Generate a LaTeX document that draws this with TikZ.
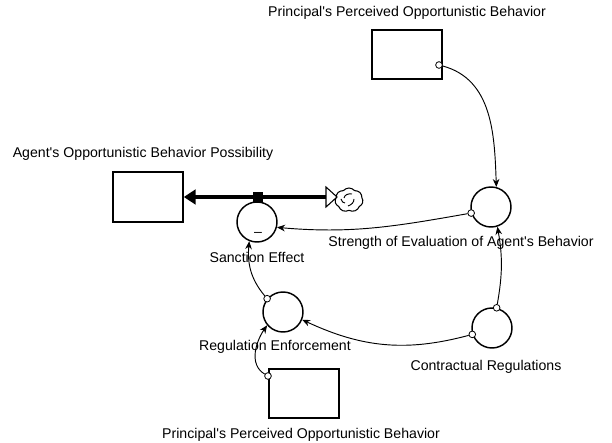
\documentclass[tikz,border=0pt]{standalone}
\usepackage{fontspec}
\setmainfont{Liberation Sans}
\usetikzlibrary{arrows.meta,shapes.symbols}
\newcommand{\ap}{\textquotesingle}
\begin{document}
\begin{tikzpicture}[x=0.75pt,y=0.75pt,
  lbl/.style={font=\fontsize{10.6}{12}\selectfont, inner sep=0},
  stock/.style={draw, line width=1.6pt, minimum width=52pt, minimum height=37pt, inner sep=0},
  aux/.style={draw, circle, line width=1.1pt, minimum size=30pt, inner sep=0},
  tap/.style={draw, circle, fill=white, line width=0.6pt, minimum size=5pt, inner sep=0},
  link/.style={line width=0.7pt, -{Stealth[length=6pt,width=5pt]}},
]
\useasboundingbox (0,0) rectangle (612,443);

% stocks
\node[stock] (ptop) at (407,388.5) {};
\node[lbl] (ptoplbl) at (407,430) {Principal\ap s Perceived Opportunistic Behavior};
\node[stock] (agent) at (148,246) {};
\node[lbl] (agentlbl) at (143,289) {Agent\ap s Opportunistic Behavior Possibility};
\node[stock] (pbot) at (304,49.5) {};
\node[lbl] (pbotlbl) at (301,8) {Principal\ap s Perceived Opportunistic Behavior};

% auxiliaries
\node[aux] (sanction) at (257,221) {};
\node[lbl] (sanctionlbl) at (257,186) {Sanction Effect};
\node[lbl] (minus) at (258,209) {\textendash};
\node[aux] (strength) at (491,236) {};
\node[lbl] (strengthlbl) at (461,200) {Strength of Evaluation of Agent\ap s Behavior};
\node[aux] (regul) at (283,131) {};
\node[lbl] (regullbl) at (275,96) {Regulation Enforcement};
\node[aux] (contract) at (492,115) {};
\node[lbl] (contractlbl) at (486,76) {Contractual Regulations};

% link taps
\node[tap] (t1) at (439,378) {};
\node[tap] (t2) at (strength.197) {};
\node[tap] (t3) at (regul.140) {};
\node[tap] (t4) at (contract.77) {};
\node[tap] (t5) at (contract.198) {};
\node[tap] (t6) at (268,67) {};

% causal links
\draw[link] (t1) to[out=-15,in=92] (strength.75);
\draw[link] (t2) to[out=190,in=-5] (sanction.-15);
\draw[link] (t3) to[out=130,in=-95] (sanction.-112);
\draw[link] (t4) to[out=80,in=-80] (strength.-72);
\draw[link] (t5) to[out=195,in=-25] (regul.-22);
\draw[link] (t6) to[out=150,in=-125] (regul.-140);

% outflow pipe with valve and cloud
\node[cloud, cloud puffs=7, cloud puff arc=100, draw, minimum width=21pt, minimum height=18pt, aspect=1.15, inner sep=0, line width=0.8pt] (sink) at (349,243) {};
\draw[line width=0.7pt]
  ([shift={(-5,2)}]sink.center) to[out=80,in=170] ([shift={(3,6)}]sink.center)
  ([shift={(5,1)}]sink.center) to[out=-90,in=20] ([shift={(-1,-6)}]sink.center)
  ([shift={(-4,-3)}]sink.center) to[out=200,in=-60] ([shift={(-8,1)}]sink.center);
\coordinate (pipeend) at (327,246);
\draw[line width=3.6pt, -{Triangle[length=9pt,width=11pt]}] (pipeend) -- (agent.east);
\draw[line width=0.8pt, fill=white] (326,256) -- (337,246) -- (326,236) -- cycle;
\node[fill=black, minimum size=7.5pt, inner sep=0] (valve) at (258,246) {};
\end{tikzpicture}
\end{document}
